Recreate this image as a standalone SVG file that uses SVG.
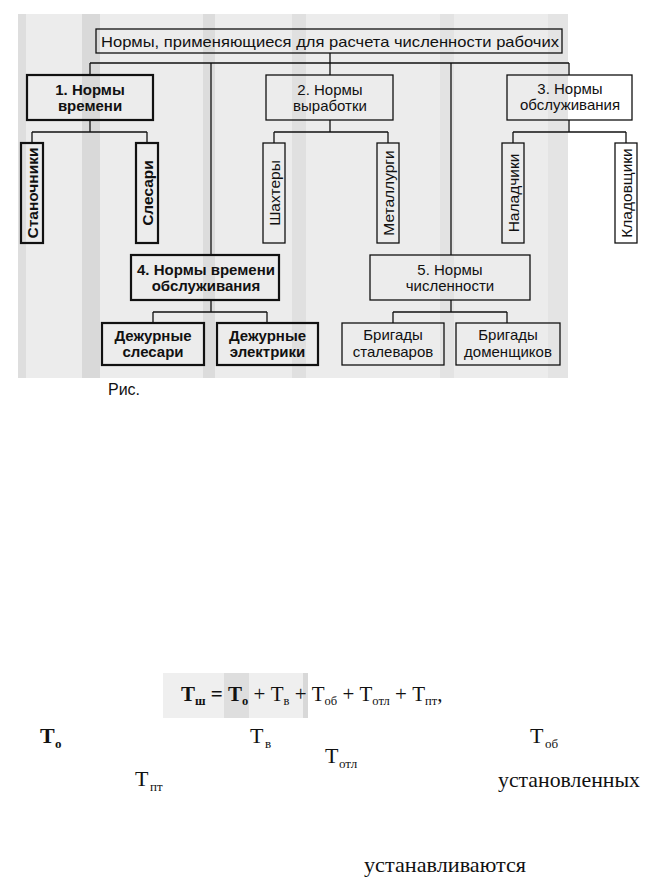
<svg xmlns="http://www.w3.org/2000/svg" width="659" height="882" viewBox="0 0 659 882">
<style>
.box{fill:none;stroke:#111;stroke-width:1.3}
.bbox{fill:none;stroke:#111;stroke-width:2.2}
.t{font-family:"Liberation Sans",Arial,sans-serif;font-size:15px;fill:#111;text-anchor:middle}
.b{font-weight:bold}
.v{font-family:"Liberation Sans",Arial,sans-serif;font-size:15.5px;fill:#111;text-anchor:middle;dominant-baseline:central}
.con line{stroke:#111;stroke-width:1.3}
.f{font-family:"Liberation Serif","Times New Roman",serif;fill:#111}
.big{font-size:22px}
.sub{font-size:13px}
</style>
<rect width="659" height="882" fill="#fff"/>
<g id="scan-bg">
<rect x="18" y="14" width="550" height="364" fill="#ececec"/>
<rect x="18" y="14" width="8" height="364" fill="#dedede"/>
<rect x="82" y="14" width="18" height="364" fill="#d9d9d9"/>
<rect x="203" y="14" width="12" height="364" fill="#dcdcdc"/>
<rect x="292" y="14" width="14" height="364" fill="#e0e0e0"/>
<rect x="440" y="14" width="14" height="364" fill="#e3e3e3"/>
<rect x="548" y="14" width="20" height="364" fill="#e4e4e4"/>
</g>
<g id="connectors" class="con">
<line x1="330" y1="53" x2="330" y2="75"/>
<line x1="90" y1="63" x2="569" y2="63"/>
<line x1="90" y1="63" x2="90" y2="75"/>
<line x1="211" y1="63" x2="211" y2="255"/>
<line x1="451" y1="63" x2="451" y2="255"/>
<line x1="569" y1="63" x2="569" y2="75"/>
<line x1="90" y1="120" x2="90" y2="132"/>
<line x1="32" y1="132" x2="147" y2="132"/>
<line x1="32" y1="132" x2="32" y2="143"/>
<line x1="147" y1="132" x2="147" y2="143"/>
<line x1="330" y1="120" x2="330" y2="132"/>
<line x1="274" y1="132" x2="388" y2="132"/>
<line x1="274" y1="132" x2="274" y2="143"/>
<line x1="388" y1="132" x2="388" y2="143"/>
<line x1="569" y1="120" x2="569" y2="132"/>
<line x1="513" y1="132" x2="626" y2="132"/>
<line x1="513" y1="132" x2="513" y2="143"/>
<line x1="626" y1="132" x2="626" y2="143"/>
<line x1="211" y1="300" x2="211" y2="312"/>
<line x1="153" y1="312" x2="267" y2="312"/>
<line x1="153" y1="312" x2="153" y2="323"/>
<line x1="267" y1="312" x2="267" y2="323"/>
<line x1="451" y1="300" x2="451" y2="312"/>
<line x1="393" y1="312" x2="507" y2="312"/>
<line x1="393" y1="312" x2="393" y2="323"/>
<line x1="507" y1="312" x2="507" y2="323"/>
</g>
<g id="title">
<rect class="box" x="96" y="29" width="466" height="24"/>
<text class="t" x="330" y="47" font-size="15.5" textLength="458" lengthAdjust="spacingAndGlyphs">Нормы, применяющиеся для расчета численности рабочих</text>
</g>
<g id="n1">
<rect class="bbox" x="27" y="75" width="126" height="45"/>
<text class="t b" x="90" y="95">1. Нормы</text>
<text class="t b" x="90" y="111">времени</text>
</g>
<g id="n2">
<rect class="box" x="266" y="75" width="127" height="45"/>
<text class="t" x="330" y="95">2. Нормы</text>
<text class="t" x="330" y="111">выработки</text>
</g>
<g id="n3">
<rect class="box" x="507" y="75" width="125" height="45"/>
<text class="t" x="570" y="94">3. Нормы</text>
<text class="t" x="570" y="110">обслуживания</text>
</g>
<g id="n1a">
<rect class="bbox" x="21" y="143" width="22" height="100"/>
<text class="v b" transform="translate(32,193) rotate(-90)">Станочники</text>
</g>
<g id="n1b">
<rect class="bbox" x="136" y="143" width="22" height="100"/>
<text class="v b" transform="translate(147,193) rotate(-90)">Слесари</text>
</g>
<g id="n2a">
<rect class="box" x="263" y="143" width="22" height="100"/>
<text class="v" transform="translate(274,193) rotate(-90)">Шахтеры</text>
</g>
<g id="n2b">
<rect class="box" x="377" y="143" width="22" height="100"/>
<text class="v" transform="translate(388,193) rotate(-90)">Металлурги</text>
</g>
<g id="n3a">
<rect class="box" x="502" y="143" width="22" height="100"/>
<text class="v" transform="translate(513,193) rotate(-90)">Наладчики</text>
</g>
<g id="n3b">
<rect class="box" x="615" y="143" width="22" height="100"/>
<text class="v" transform="translate(626,193) rotate(-90)">Кладовщики</text>
</g>
<g id="n4">
<rect class="bbox" x="131" y="255" width="148" height="45"/>
<text class="t b" x="206" y="275">4. Нормы времени</text>
<text class="t b" x="206" y="291">обслуживания</text>
</g>
<g id="n5">
<rect class="box" x="370" y="255" width="160" height="45"/>
<text class="t" x="450" y="275">5. Нормы</text>
<text class="t" x="450" y="291">численности</text>
</g>
<g id="n4a">
<rect class="bbox" x="102" y="323" width="102" height="42"/>
<text class="t b" x="153" y="341">Дежурные</text>
<text class="t b" x="153" y="357">слесари</text>
</g>
<g id="n4b">
<rect class="bbox" x="217" y="323" width="101" height="42"/>
<text class="t b" x="267.5" y="341">Дежурные</text>
<text class="t b" x="267.5" y="357">электрики</text>
</g>
<g id="n5a">
<rect class="box" x="342" y="323" width="102" height="42"/>
<text class="t" x="393" y="340">Бригады</text>
<text class="t" x="393" y="357">сталеваров</text>
</g>
<g id="n5b">
<rect class="box" x="456" y="323" width="104" height="42"/>
<text class="t" x="508" y="340">Бригады</text>
<text class="t" x="508" y="357">доменщиков</text>
</g>
<text x="108" y="395" font-family="Liberation Sans, Arial, sans-serif" font-size="16" fill="#111">Рис.</text>
<g id="formula">
<rect x="163" y="673" width="145" height="45" fill="#efefef"/>
<rect x="224" y="673" width="25" height="45" fill="#dedede"/>
<rect x="303" y="673" width="5" height="45" fill="#d8d8d8"/>
<text class="f" y="701" font-size="21">
<tspan x="181" font-weight="bold">T</tspan><tspan font-size="12.5" dy="4" font-weight="bold">ш</tspan><tspan dy="-4" font-weight="bold"> = T</tspan><tspan font-size="12.5" dy="4" font-weight="bold">о</tspan><tspan dy="-4"> + T</tspan><tspan font-size="12.5" dy="4">в</tspan><tspan dy="-4"> + T</tspan><tspan font-size="12.5" dy="4">об</tspan><tspan dy="-4"> + T</tspan><tspan font-size="12.5" dy="4">отл</tspan><tspan dy="-4"> + T</tspan><tspan font-size="12.5" dy="4">пт</tspan><tspan dy="-4">,</tspan>
</text>
</g>
<g id="terms">
<text class="f big" x="40" y="743" font-weight="bold">T</text><text class="f sub" x="55" y="748" font-weight="bold">о</text>
<text class="f big" x="250" y="743">T</text><text class="f sub" x="265" y="748">в</text>
<text class="f big" x="325" y="763">T</text><text class="f sub" x="339" y="768">отл</text>
<text class="f big" x="530" y="743">T</text><text class="f sub" x="545" y="748">об</text>
<text class="f big" x="135" y="786">T</text><text class="f sub" x="150" y="791">пт</text>
<text class="f big" x="498" y="787" textLength="142" lengthAdjust="spacingAndGlyphs">установленных</text>
<text class="f big" x="364" y="872" textLength="162" lengthAdjust="spacingAndGlyphs">устанавливаются</text>
</g>
</svg>
